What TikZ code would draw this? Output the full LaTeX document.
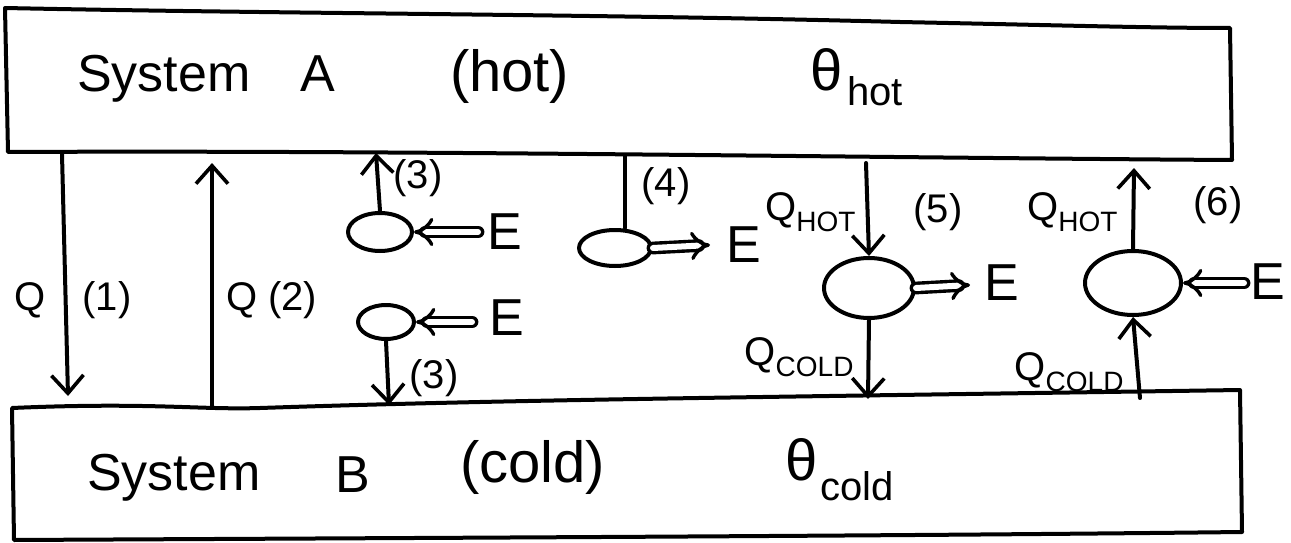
\documentclass[tikz,border=0pt]{standalone}
\usepackage{fontspec}
\setmainfont{Liberation Sans}
\usetikzlibrary{arrows.meta,shapes.geometric}
\begin{document}
\begin{tikzpicture}[x=1pt,y=-1pt,line width=4pt,line cap=round,line join=round,
  big/.style={font=\fontsize{52}{58}\selectfont,inner sep=0pt},
  lab/.style={font=\fontsize{40}{46}\selectfont,inner sep=0pt},
  sub/.style={font=\fontsize{40}{46}\selectfont,inner sep=0pt},
  blob/.style={draw,ellipse,inner sep=0pt,minimum width=#1},
  sarrow/.style={-{Straight Barb[length=18pt,width=32pt,line width=3.6pt]}},
  darrow/.style={double,double distance=6pt,line width=3.4pt,-{Implies[length=16pt,width=26pt]}}]
\useasboundingbox (0,0) rectangle (1291,543);
% top box (system A)
\draw (5,8) .. controls (300,14) and (600,14) .. (900,22) .. controls (1050,25) and (1150,28) .. (1230,28)
  -- (1232,160) .. controls (900,158) and (400,150) .. (8,152) -- cycle;
% bottom box (system B)
\draw (12,408) .. controls (150,402) and (200,410) .. (260,408) .. controls (500,400) and (700,398) .. (1240,390)
  -- (1242,532) .. controls (900,536) and (400,538) .. (14,540) -- cycle;
% texts of boxes
\node[big,anchor=base west] (sysA) at (75,92) {System};
\node[big,anchor=base west] (A) at (298,92) {A};
\node[big,anchor=base west,font=\fontsize{58}{64}\selectfont] (hot) at (448,92) {(hot)};
\node[big,anchor=base west,font=\fontsize{58}{64}\selectfont] (thA) at (808,90) {θ};
\node[sub,anchor=base west] (thAsub) at (845,105) {hot};
\node[big,anchor=base west] (sysB) at (85,490) {System};
\node[big,anchor=base west] (B) at (333,492) {B};
\node[big,anchor=base west,font=\fontsize{58}{64}\selectfont] (cold) at (458,482) {(cold)};
\node[big,anchor=base west,font=\fontsize{58}{64}\selectfont] (thB) at (783,480) {θ};
\node[sub,anchor=base west] (thBsub) at (818,500) {cold};
% (1) and (2)
\coordinate (a1) at (62,154);
\coordinate (b1) at (68,396);
\draw[sarrow] (a1) -- (b1);
\node[lab] (Q1) at (30,300) {Q};
\node[lab] (n1) at (107,300) {(1)};
\coordinate (a2) at (212,406);
\coordinate (b2) at (212,163);
\draw[sarrow] (a2) -- (b2);
\node[lab,anchor=west] (Q2) at (224,300) {Q (2)};
% (3) upper
\node[blob=64pt,minimum height=38pt] (e3a) at (380,232) {};
\coordinate (t3a) at (376,153);
\draw[sarrow] (e3a.north) -- (t3a);
\node[lab] (n3a) at (418,178) {(3)};
\coordinate (s3a) at (478,232);
\draw[darrow] (s3a) -- (e3a.east);
\node[big] (E3a) at (505,232) {E};
% (3) lower
\node[blob=56pt,minimum height=34pt] (e3b) at (386,322) {};
\coordinate (t3b) at (389,405);
\draw[sarrow] (e3b.south) -- (t3b);
\node[lab] (n3b) at (434,378) {(3)};
\coordinate (s3b) at (472,322);
\draw[darrow] (s3b) -- (e3b.east);
\node[big] (E3b) at (507,318) {E};
% (4)
\node[blob=72pt,minimum height=36pt] (e4) at (615,248) {};
\coordinate (t4) at (625,155);
\draw (t4) -- (e4.north -| t4);
\node[lab] (n4) at (666,186) {(4)};
\coordinate (s4) at (710,245);
\draw[darrow] (e4.east) -- (s4);
\node[big] (E4) at (744,245) {E};
% (5)
\node[blob=90pt,minimum height=60pt] (e5) at (869,288) {};
\coordinate (t5) at (866,163);
\draw[sarrow] (t5) -- (e5.north);
\coordinate (b5) at (868,399);
\draw[sarrow] (e5.south) -- (b5);
\node[lab,anchor=east] (Qh5) at (858,212) {Q\textsubscript{HOT}};
\node[lab] (n5) at (938,212) {(5)};
\node[lab,anchor=east] (Qc5) at (856,357) {Q\textsubscript{COLD}};
\coordinate (s5) at (970,285);
\draw[darrow] (e5.east) -- (s5);
\node[big] (E5) at (1002,283) {E};
% (6)
\node[blob=96pt,minimum height=64pt] (e6) at (1133,283) {};
\coordinate (t6) at (1134,168);
\draw[sarrow] (e6.north) -- (t6);
\coordinate (b6) at (1140,398);
\draw[sarrow] (b6) -- (e6.south);
\node[lab,anchor=east] (Qh6) at (1120,212) {Q\textsubscript{HOT}};
\node[lab] (n6) at (1218,205) {(6)};
\node[lab,anchor=east] (Qc6) at (1126,372) {Q\textsubscript{COLD}};
\coordinate (s6) at (1244,283);
\draw[darrow] (s6) -- (e6.east);
\node[big] (E6) at (1268,282) {E};
\end{tikzpicture}
\end{document}
